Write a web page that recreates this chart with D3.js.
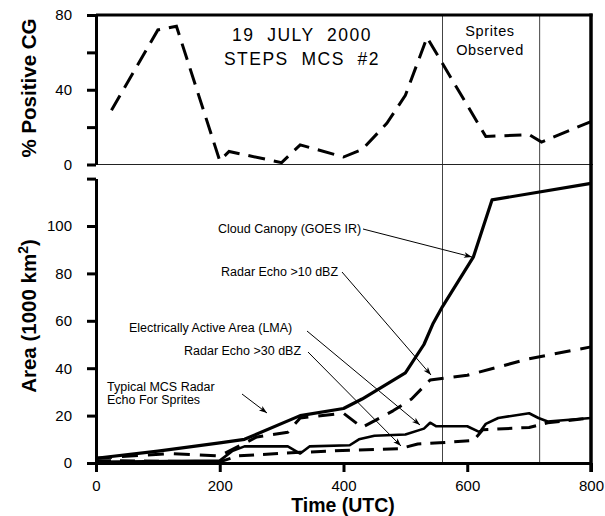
<!DOCTYPE html>
<html>
<head>
<meta charset="utf-8">
<script src="https://cdn.jsdelivr.net/npm/d3@7"></script>
<style>
  body { margin: 0; background: #fff; }
  text { font-family: "Liberation Sans", Arial, sans-serif; fill: #000; }
</style>
</head>
<body>
<svg id="chart" width="605" height="516"></svg>
<script>
// % positive CG (top panel)
const pctTime = [25, 100, 130, 200, 215, 300, 330, 400, 430, 470, 500, 535, 560, 630, 700, 720, 800];
const pctPos  = [29, 72, 74, 2, 7, 1, 10.5, 4, 8, 22, 37, 68, 54, 15, 16, 12, 23];

// area series (bottom panel), 1000 km2
const cloudTime = [0, 100, 200, 240, 330, 400, 430, 500, 530, 545, 560, 610, 640, 800];
const cloudArea = [2, 5, 8.5, 10, 20, 23, 27, 38, 50, 59, 66, 87, 111, 118];

const tenTime = [0, 120, 200, 260, 310, 330, 400, 430, 480, 510, 540, 600, 700, 800];
const tenArea = [2, 4, 3, 11, 13, 19, 21, 15, 22, 27, 35, 37, 44, 49];

const lmaTime = [0, 200, 220, 240, 310, 330, 345, 410, 425, 450, 500, 530, 540, 550, 600, 620, 630, 650, 700, 715, 730, 800];
const lmaArea = [0.5, 1, 5, 7, 7, 4, 7, 7.5, 10, 11.5, 12, 14.5, 17, 15.5, 15.5, 13, 16.5, 19, 21, 19, 17.5, 19];

const thirtyTime = [0, 200, 230, 330, 420, 490, 520, 555, 610, 625, 700, 730, 800];
const thirtyArea = [1, 0.5, 3, 4.5, 5.5, 6, 8, 8.5, 9.5, 14, 15, 17, 19];

const xTicks = [0, 200, 400, 600, 800];
const topTicks = [0, 20, 40, 60, 80];
const topLabels = [0, 40, 80];
const botTicks = [0, 20, 40, 60, 80, 100, 120];
const botLabels = [0, 20, 40, 60, 80, 100];
const spriteTimes = [560, 717];

const svg = d3.select("#chart");
svg.append("rect").attr("width", 605).attr("height", 516).attr("fill", "#fff");

const x = d3.scaleLinear().domain([0, 800]).range([96, 591]);
const yTop = d3.scaleLinear().domain([0, 80]).range([164.5, 15]);
const yBot = d3.scaleLinear().domain([0, 120]).range([463, 178.6]);

// sprite lines
svg.selectAll("line.sprite")
  .data(spriteTimes)
  .enter()
  .append("line")
  .attr("class", "sprite")
  .attr("x1", d => x(d)).attr("x2", d => x(d))
  .attr("y1", yTop(80)).attr("y2", yBot(0))
  .attr("stroke", "#444").attr("stroke-width", 1);

// zero line of the top panel
svg.append("line")
  .attr("x1", x(0)).attr("x2", x(800) + 2)
  .attr("y1", yTop(0)).attr("y2", yTop(0))
  .attr("stroke", "#222").attr("stroke-width", 1);

// top border and right border
svg.append("line")
  .attr("x1", x(0)).attr("x2", x(800) + 1.5)
  .attr("y1", yTop(80)).attr("y2", yTop(80))
  .attr("stroke", "#000").attr("stroke-width", 3);
svg.append("line")
  .attr("x1", x(800)).attr("x2", x(800))
  .attr("y1", yTop(80) - 1.5).attr("y2", yBot(0) + 9)
  .attr("stroke", "#000").attr("stroke-width", 3.5);

// axes
const topAxis = d3.axisLeft(yTop).tickValues(topTicks)
  .tickFormat(d => topLabels.includes(d) ? d : "")
  .tickSize(9).tickSizeOuter(0).tickPadding(15);
const botAxis = d3.axisLeft(yBot).tickValues(botTicks)
  .tickFormat(d => botLabels.includes(d) ? d : "")
  .tickSize(9).tickSizeOuter(0).tickPadding(15);
const xAxis = d3.axisBottom(x).tickValues(xTicks)
  .tickSize(9).tickSizeOuter(0).tickPadding(8);

function styleAxis(g) {
  g.select(".domain").attr("stroke", "#000").attr("stroke-width", 3);
  g.selectAll(".tick line").attr("stroke", "#000").attr("stroke-width", 3);
  g.selectAll(".tick text").attr("font-size", 15).attr("font-family", "Liberation Sans, Arial, sans-serif").attr("fill", "#000");
}

svg.append("g").attr("transform", `translate(${x(0)},0)`).call(topAxis).call(styleAxis);
svg.append("g").attr("transform", `translate(${x(0)},0)`).call(botAxis).call(styleAxis);
svg.append("g").attr("transform", `translate(0,${yBot(0)})`).call(xAxis).call(styleAxis);

// series
const topLine = d3.line().x((d, i) => x(pctTime[i])).y(d => yTop(d));
svg.append("path")
  .attr("d", topLine(pctPos))
  .attr("fill", "none").attr("stroke", "#000")
  .attr("stroke-width", 3).attr("stroke-dasharray", "17,9");

function areaLine(times, vals, dash, width) {
  const line = d3.line().x((d, i) => x(times[i])).y(d => yBot(d));
  svg.append("path")
    .attr("d", line(vals))
    .attr("fill", "none").attr("stroke", "#000")
    .attr("stroke-width", width)
    .attr("stroke-linejoin", "round")
    .attr("stroke-dasharray", dash);
}
areaLine(thirtyTime, thirtyArea, "15,9", 3);
areaLine(tenTime, tenArea, "16,10", 3);
areaLine(lmaTime, lmaArea, null, 2.6);
areaLine(cloudTime, cloudArea, null, 3.2);

// arrows
svg.append("defs").append("marker")
  .attr("id", "arrow")
  .attr("markerUnits", "userSpaceOnUse")
  .attr("viewBox", "0 0 10 10")
  .attr("refX", 10).attr("refY", 5)
  .attr("markerWidth", 11).attr("markerHeight", 8)
  .attr("orient", "auto")
  .append("path").attr("d", "M0,1.5 L10,5 L0,8.5 L2.5,5 Z").attr("fill", "#000");

const notes = [
  {lines: ["Cloud Canopy (GOES IR)"], tx: 218, ty: 233, from: [363, 229], to: [472, 257]},
  {lines: ["Radar Echo >10 dBZ"], tx: 221, ty: 276, from: [342, 272], to: [431, 375]},
  {lines: ["Electrically Active Area (LMA)"], tx: 129, ty: 332, from: [307, 331], to: [420, 425]},
  {lines: ["Radar Echo >30 dBZ"], tx: 184, ty: 355, from: [308, 352], to: [401, 446]},
  {lines: ["Typical MCS Radar", "Echo For Sprites"], tx: 107, ty: 391, from: [242, 394], to: [267, 413]}
];

notes.forEach(n => {
  const t = svg.append("text").attr("font-size", 12.5);
  n.lines.forEach((s, i) => {
    t.append("tspan").attr("x", n.tx).attr("y", n.ty + i * 13).text(s);
  });
  svg.append("line")
    .attr("x1", n.from[0]).attr("y1", n.from[1])
    .attr("x2", n.to[0]).attr("y2", n.to[1])
    .attr("stroke", "#000").attr("stroke-width", 1)
    .attr("marker-end", "url(#arrow)");
});

// titles
svg.append("text")
  .attr("x", 302).attr("y", 40.5)
  .attr("text-anchor", "middle")
  .attr("font-size", 17.5)
  .attr("letter-spacing", 1.5)
  .style("white-space", "pre")
  .text("19  JULY  2000");
svg.append("text")
  .attr("x", 302).attr("y", 65)
  .attr("text-anchor", "middle")
  .attr("font-size", 17.5)
  .attr("letter-spacing", 1.5)
  .style("white-space", "pre")
  .text("STEPS  MCS  #2");

svg.append("text")
  .attr("x", 490).attr("y", 36)
  .attr("text-anchor", "middle")
  .attr("font-size", 14.5).attr("letter-spacing", 0.6)
  .text("Sprites");
svg.append("text")
  .attr("x", 490).attr("y", 55)
  .attr("text-anchor", "middle")
  .attr("font-size", 14.5).attr("letter-spacing", 0.6)
  .text("Observed");

// axis titles
svg.append("text")
  .attr("transform", "translate(36,88) rotate(-90)")
  .attr("text-anchor", "middle")
  .attr("font-size", 20.5).attr("font-weight", "bold")
  .text("% Positive CG");

const areaTitle = svg.append("text")
  .attr("transform", "translate(36,316) rotate(-90)")
  .attr("text-anchor", "middle")
  .attr("font-size", 20.5).attr("font-weight", "bold");
areaTitle.append("tspan").text("Area (1000 km");
areaTitle.append("tspan").attr("font-size", 14).attr("dy", -8).text("2");
areaTitle.append("tspan").attr("dy", 8).text(")");

svg.append("text")
  .attr("x", 343).attr("y", 511.5)
  .attr("text-anchor", "middle")
  .attr("font-size", 19.5).attr("font-weight", "bold")
  .text("Time (UTC)");
</script>
</body>
</html>
